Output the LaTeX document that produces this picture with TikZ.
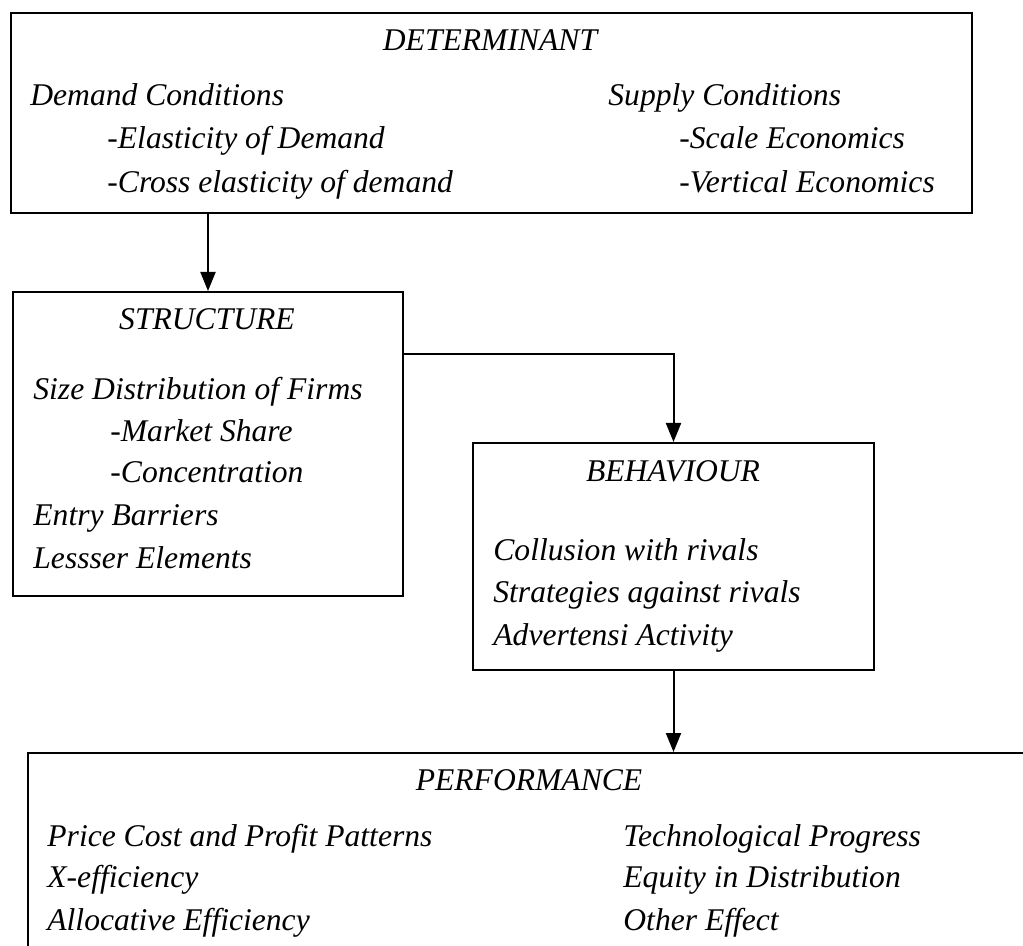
\documentclass[tikz,border=0pt]{standalone}
\usepackage{fontspec}
\setmainfont{Liberation Serif}
\usetikzlibrary{arrows.meta}

\begin{document}
\begin{tikzpicture}[x=0.5pt,y=-0.5pt,
    font=\fontsize{15.8}{21}\selectfont\itshape,
    box/.style={draw,line width=1pt,inner sep=0pt,anchor=north west},
    ttl/.style={anchor=base,inner sep=0pt},
    txt/.style={anchor=base west,inner sep=0pt},
    arr/.style={line width=1pt,-{Triangle[length=9.5pt,width=7.5pt]}}]
    \clip (0,0) rectangle (1023,946);

    % boxes
    \node[box,minimum width=480.5pt,minimum height=100pt] (det) at (10,12) {};
    \node[box,minimum width=195pt,minimum height=152pt] (struct) at (12,291) {};
    \node[box,minimum width=200.5pt,minimum height=113.5pt] (behav) at (472,442) {};
    \node[box,minimum width=540pt,minimum height=150pt] (perf) at (27,752) {};

    % determinant
    \node[ttl] (detT) at (490,51) {DETERMINANT};
    \node[txt] (dem)  at (30,106) {Demand Conditions};
    \node[txt] (dem1) at (107,149) {-Elasticity of Demand};
    \node[txt] (dem2) at (107,193) {-Cross elasticity of demand};
    \node[txt] (sup)  at (608,106) {Supply Conditions};
    \node[txt] (sup1) at (679,149) {-Scale Economics};
    \node[txt] (sup2) at (679,193) {-Vertical Economics};

    % structure
    \node[ttl] (structT) at (207,330) {STRUCTURE};
    \node[txt] (size)  at (33,400) {Size Distribution of Firms};
    \node[txt] (size1) at (110,442) {-Market Share};
    \node[txt] (size2) at (110,483) {-Concentration};
    \node[txt] (entry) at (33,525) {Entry Barriers};
    \node[txt] (less)  at (33,568) {Lessser Elements};

    % behaviour
    \node[ttl] (behavT) at (673,482) {BEHAVIOUR};
    \node[txt] (coll)  at (493,560) {Collusion with rivals};
    \node[txt] (strat) at (493,603) {Strategies against rivals};
    \node[txt] (adv)   at (493,645) {Advertensi Activity};

    % performance
    \node[ttl] (perfT) at (529,790) {PERFORMANCE};
    \node[txt] (price) at (47,846) {Price Cost and Profit Patterns};
    \node[txt] (xeff)  at (47,887) {X-efficiency};
    \node[txt] (alloc) at (47,930) {Allocative Efficiency};
    \node[txt] (tech)  at (623,846) {Technological Progress};
    \node[txt] (equ)   at (623,887) {Equity in Distribution};
    \node[txt] (other) at (623,930) {Other Effect};

    % connectors
    \draw[arr] (det.south -| struct.north) -- (struct.north);
    \draw[arr] ([yshift=-31.5pt]struct.north east) -| (behav.north);
    \draw[arr] (behav.south) -- (behav.south |- perf.north);
\end{tikzpicture}
\end{document}
